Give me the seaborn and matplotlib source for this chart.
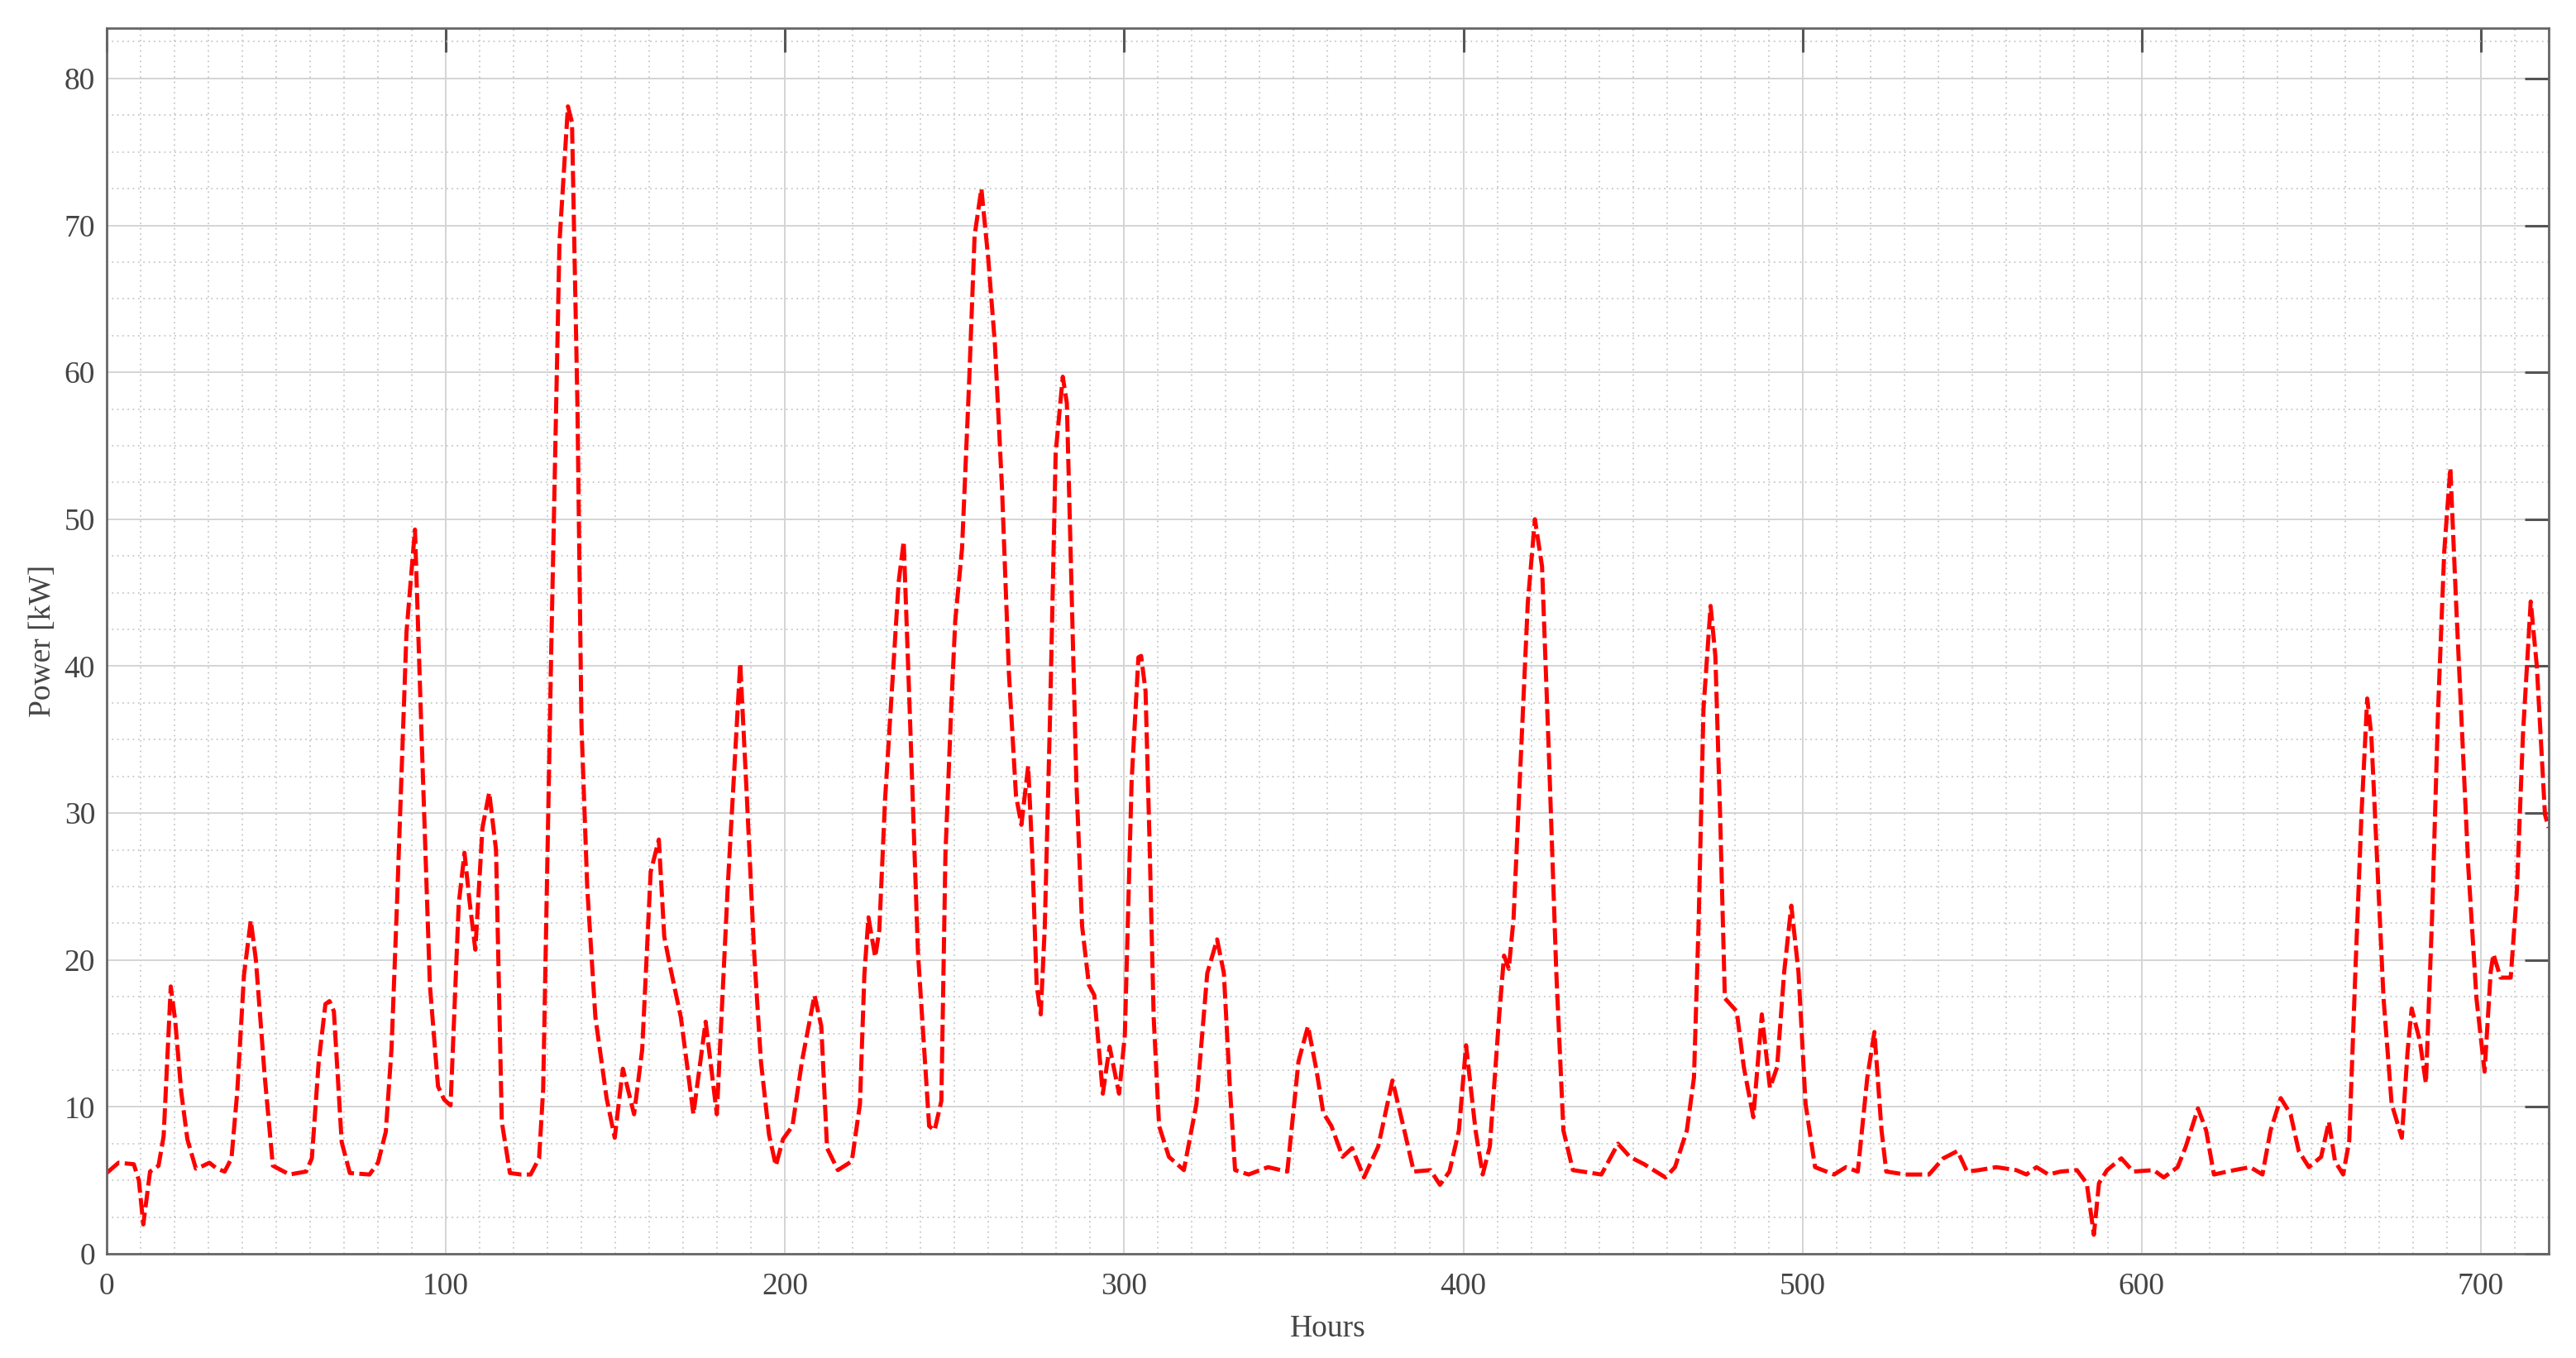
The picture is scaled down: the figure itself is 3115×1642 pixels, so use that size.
import matplotlib
matplotlib.use('Agg')
import matplotlib.pyplot as plt
from matplotlib.ticker import MultipleLocator
import seaborn as sns
import pandas as pd

# ── Data (hours, kW) ──
hours = [0, 3.5, 8, 9.5, 10.8, 12.8, 15.3, 16.8, 18.9, 20.2, 22, 23.8, 26.3, 28.5,
         30.3, 32.5, 34.8, 36.8, 38.5, 40.5, 42.5, 44, 46.6, 49, 53.9, 58.8,
         60.5, 62.5, 64.5, 65.7, 67, 69.3, 71.7, 77.5, 80, 82.3, 84, 85.6, 88.4,
         90.9, 92.9, 95.3, 97.7, 99.5, 101.4, 103.8, 105.5, 107, 108.7, 110.8,
         112.8, 114.8, 116.5, 118.9, 122.2, 125, 127.5, 128.7, 131.1, 133.5, 136,
         137.2, 138.8, 140, 141.7, 144.1, 147.4, 149.8, 152.2, 155.5, 157.9,
         160.4, 162.8, 164.4, 166, 169.3, 173, 176.6, 179.9, 183.1, 186.8, 188.8,
         190.9, 192.9, 195.3, 197.3, 199.4, 202.2, 205, 208.7, 210.7, 212.4,
         215.6, 219.7, 222.1, 223.4, 224.6, 226.6, 227.8, 229.5, 231.5, 233.5,
         235, 236.8, 239.2, 242.5, 244.1, 246.1, 247.3, 249, 250.2, 252.2, 254.3,
         255.9, 257.9, 259.9, 261.9, 264, 266, 268.1, 269.7, 271.7, 272.9, 274.2,
         275.4, 276.6, 278.2, 279.8, 281.9, 283.1, 284.3, 285.9, 287.6, 289.6,
         291.2, 293.7, 295.7, 298.5, 300.2, 302.2, 304.2, 305, 306.3, 307.5,
         308.7, 310.3, 313.2, 317.6, 321.3, 324.5, 327.4, 329.4, 331.1, 332.7,
         336.7, 342.4, 348.1, 351.4, 354.2, 356.7, 358.7, 361.1, 364.4, 367.2,
         370.7, 374.9, 379.1, 382.6, 385.4, 390.3, 393.1, 395.9, 398.7, 400.8,
         403.6, 405.7, 407.8, 410.6, 412, 413.4, 414.8, 416.9, 419, 421.1, 423.2,
         425.3, 427.4, 429.5, 432.3, 440.7, 445.6, 449.1, 453.3, 459.6, 462.4,
         465.9, 468, 469.4, 470.8, 472.9, 474.3, 475.7, 477.1, 480.6, 482.7,
         485.5, 488, 490.4, 492.5, 494.6, 496.7, 498.8, 500.9, 503.7, 509.3,
         512.8, 516.3, 519.1, 521.2, 523.3, 524.7, 530.3, 537.3, 541.5, 545.7,
         548.5, 552, 557.1, 563, 566, 569, 572.5, 576.1, 580.9, 583.8, 585.9,
         587.4, 589.8, 594, 597.5, 603.5, 606.5, 610.6, 613, 616.6, 619, 621.3,
         627.3, 632, 635.6, 638, 641, 643.9, 646.3, 649.3, 652.9, 655.2, 657,
         659.4, 661.2, 663, 664.8, 666.5, 667.7, 669.5, 671.3, 673.7, 676.7,
         678.4, 679.6, 682, 683.8, 685.6, 687.4, 689.2, 691, 692.7, 694.5, 696.3,
         698.7, 701.1, 702.9, 703.7, 705.8, 708.8, 710.6, 712.4, 714.7, 716.5,
         718.9, 720]
power_kw = [5.5, 6.2, 6.1, 5.0, 2.0, 5.6, 6.0, 8.0, 18.2, 15.9, 11.0, 7.8, 5.8, 6.0,
            6.2, 5.8, 5.6, 6.5, 11.0, 19.0, 22.7, 20.0, 12.1, 6.0, 5.4, 5.6,
            6.5, 13.0, 17.0, 17.2, 16.5, 7.6, 5.5, 5.4, 6.2, 8.3, 14.0, 23.8, 42.3,
            49.3, 34.9, 18.3, 11.4, 10.5, 10.1, 23.8, 27.3, 24.0, 20.7, 29.0,
            31.4, 27.5, 9.0, 5.5, 5.4, 5.4, 6.5, 11.2, 41.3, 68.8, 78.1,
            77.0, 57.8, 35.9, 24.9, 16.1, 10.6, 7.9, 12.6, 9.5, 13.9,
            26.0, 28.2, 21.6, 19.7, 16.1, 9.5, 15.8, 9.5, 24.9, 40.2, 30.9,
            20.5, 13.1, 8.1, 6.0, 7.8, 8.7, 13.1, 17.6, 15.5, 7.2,
            5.7, 6.3, 10.2, 19.0, 22.9, 20.2, 22.0, 30.9, 38.3, 45.7,
            48.5, 36.8, 20.5, 8.7, 8.4, 10.4, 27.2, 37.1, 43.1, 48.0, 59.4,
            69.3, 72.5, 67.8, 61.9, 52.0, 39.6, 31.2, 29.2, 33.2, 27.2, 18.3,
            16.3, 22.3, 37.1, 54.5, 59.7, 57.9, 47.0, 32.2, 22.3, 18.3,
            17.6, 10.9, 14.1, 10.9, 14.9, 32.2, 40.6, 40.7, 38.3, 27.9,
            16.1, 8.7, 6.6, 5.7, 10.2, 19.1, 21.4, 19.1, 11.6, 5.7,
            5.4, 5.9, 5.6, 13.1, 15.5, 12.5, 9.6, 8.7, 6.6, 7.2,
            5.2, 7.3, 11.8, 8.4, 5.6, 5.7, 4.7, 5.6, 8.4, 14.2,
            8.4, 5.4, 7.3, 16.3, 20.3, 19.4, 22.8, 33.5, 44.3, 50.0, 46.8,
            33.5, 19.2, 8.4, 5.7, 5.4, 7.5, 6.6, 6.1, 5.2, 5.9,
            8.4, 12.0, 22.8, 37.1, 44.1, 40.7, 29.9, 17.4, 16.5, 12.7,
            9.3, 16.3, 11.3, 12.7, 19.2, 23.7, 19.2, 10.2, 5.9, 5.4,
            5.9, 5.6, 12.0, 15.1, 8.4, 5.6, 5.4, 5.4, 6.5, 7.0,
            5.6, 5.7, 5.9, 5.7, 5.4, 5.9, 5.4, 5.6, 5.7, 4.8, 1.3,
            4.8, 5.7, 6.5, 5.6, 5.7, 5.2, 5.9, 7.3, 9.9, 8.4, 5.4,
            5.7, 5.9, 5.4, 8.4, 10.6, 9.5, 7.0, 5.9, 6.6, 9.0, 6.3,
            5.4, 7.7, 19.2, 29.9, 37.8, 35.3, 26.3, 17.4, 10.2, 7.9,
            13.8, 16.7, 14.5, 11.6, 22.8, 37.1, 47.8, 53.5, 44.3, 35.3, 26.3,
            17.4, 12.4, 19.2, 20.4, 18.8, 18.8, 24.6, 35.3, 44.4, 40.0,
            29.9, 29.0]

x_ticks = [0, 100, 200, 300, 400, 500, 600, 700]
y_ticks = [0, 10, 20, 30, 40, 50, 60, 70, 80]

df = pd.DataFrame({'Hours': hours, 'Power': power_kw})

# ── Style ─────────────────────────────────────
sns.set_theme(style='white')
plt.rcParams['font.family'] = ['Liberation Serif', 'DejaVu Serif']

fig, ax = plt.subplots(figsize=(31.15, 16.42), dpi=100)
fig.subplots_adjust(left=0.0414, right=0.9894, bottom=0.0767, top=0.979)

sns.lineplot(data=df, x='Hours', y='Power', ax=ax, color='#ff0000',
             linewidth=3.6, sort=False)
ax.lines[0].set_dashes((4.0, 1.3))
ax.lines[0].set_solid_joinstyle('round')
ax.lines[0].set_dash_joinstyle('round')

ax.set_xlim(0, 720)
ax.set_ylim(0, 83.4)
ax.set_xticks(x_ticks)
ax.set_yticks(y_ticks)
ax.xaxis.set_minor_locator(MultipleLocator(10))
ax.yaxis.set_minor_locator(MultipleLocator(2.5))

ax.grid(which='major', color='#d4d4d4', linewidth=1.4, linestyle='-')
ax.grid(which='minor', color='#c8c8c8', linewidth=1.3, linestyle=(0, (1, 2.5)))
ax.set_axisbelow(True)

ax.tick_params(which='major', direction='in', length=21, width=2.2,
               color='#555555', labelsize=27, labelcolor='#444444',
               top=True, right=True, pad=10)
ax.tick_params(axis='x', which='major', pad=16)
ax.tick_params(which='minor', length=0)
for sp in ax.spines.values():
    sp.set_color('#666666')
    sp.set_linewidth(2.0)

ax.set_xlabel('Hours', fontsize=27, color='#444444', labelpad=12)
ax.set_ylabel('Power [kW]', fontsize=27, color='#444444', labelpad=6)

plt.savefig('out.png', dpi=100)
plt.close()
